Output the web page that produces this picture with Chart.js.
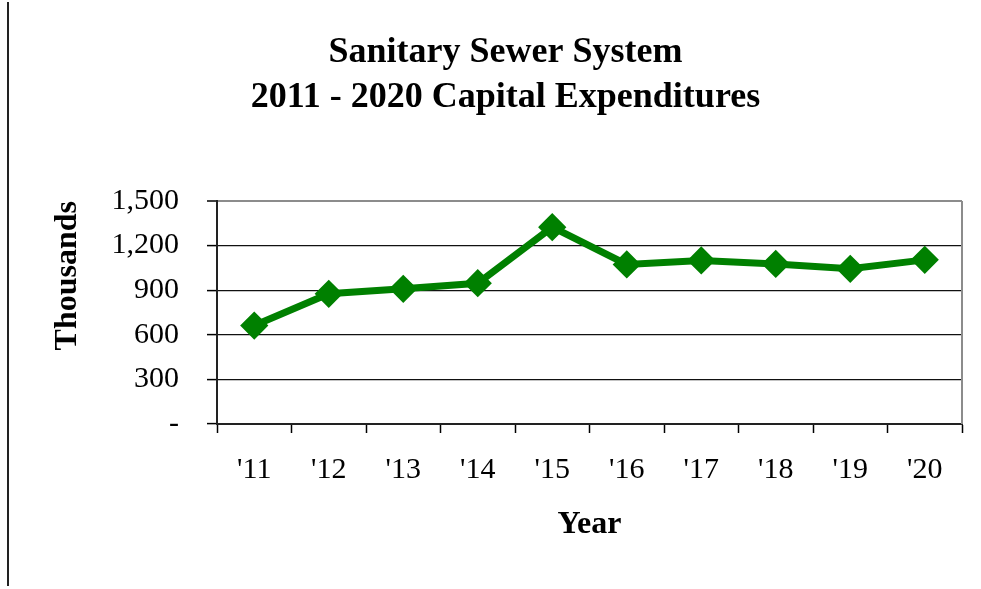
<!DOCTYPE html>
<html>
<head>
<meta charset="utf-8">
<script src="https://cdn.jsdelivr.net/npm/chart.js@4.4.1/dist/chart.umd.min.js"></script>
<style>
  html, body { margin: 0; padding: 0; background: #fff; }
  #wrap { position: relative; width: 981px; height: 589px; }
  #edge { position: absolute; left: 7px; top: 2px; height: 584px; border-left: 2px solid #222; }
  canvas { position: absolute; left: 0; top: 0; }
</style>
</head>
<body>
<div id="wrap">
  <div id="edge"></div>
  <canvas id="myChart" width="981" height="589"></canvas>
</div>
<script>
// chart data
var years = ["'11", "'12", "'13", "'14", "'15", "'16", "'17", "'18", "'19", "'20"];
var spending = [662, 876, 909, 947, 1324, 1073, 1100, 1077, 1044, 1104];
var yTicks = [0, 300, 600, 900, 1200, 1500];

var serif = "'Liberation Serif', 'Times New Roman', serif";

// grey frame on the right side of the plot
var rightEdge = {
    id: "rightEdge",
    afterDraw: function(chart){
        var a = chart.chartArea;
        var ctx = chart.ctx;
        ctx.save();
        ctx.strokeStyle = "#8c8c8c";
        ctx.lineWidth = 2;
        ctx.beginPath();
        ctx.moveTo(a.right, a.top);
        ctx.lineTo(a.right, a.bottom);
        ctx.stroke();
        ctx.restore();
    }
};

new Chart("myChart", {
    type: "line",
    data: {
        labels: years,
        datasets: [{
            data: spending,
            borderColor: "#008000",
            backgroundColor: "#008000",
            borderWidth: 7,
            pointStyle: "rectRot",
            pointRadius: 12,
            pointBorderWidth: 3,
            pointBackgroundColor: "#008000",
            pointBorderColor: "#008000",
            tension: 0
        }]
    },
    options: {
        responsive: false,
        animation: false,
        layout: { padding: { left: 49, right: 19, top: 5, bottom: 45 } },
        plugins: {
            legend: { display: false },
            tooltip: { enabled: false },
            title: {
                display: true,
                text: ["Sanitary Sewer System", "2011 - 2020 Capital Expenditures"],
                color: "#000",
                font: { family: serif, size: 36, weight: "bold", lineHeight: 1.25 },
                padding: { top: 25, bottom: 81 }
            }
        },
        scales: {
            x: {
                offset: true,
                grid: {
                    offset: true,
                    drawOnChartArea: false,
                    tickLength: 9,
                    tickColor: "#000",
                    tickWidth: 1.5
                },
                border: { color: "#222", width: 2 },
                ticks: {
                    color: "#000",
                    padding: 19,
                    maxRotation: 0,
                    font: { family: serif, size: 30 }
                },
                title: {
                    display: true,
                    text: "Year",
                    color: "#000",
                    font: { family: serif, size: 32, weight: "bold" },
                    padding: { top: 10, bottom: 0 }
                },
                afterFit: function(scale){ scale.height = 589 - 424 - 45; }
            },
            y: {
                min: 0,
                max: 1500,
                afterBuildTicks: function(scale){
                    scale.ticks = yTicks.map(function(v){ return { value: v }; });
                },
                grid: {
                    color: function(ctx){
                        return ctx.tick && ctx.tick.value === 1500 ? "#8c8c8c" : "#111";
                    },
                    lineWidth: function(ctx){
                        return ctx.tick && ctx.tick.value === 1500 ? 2 : 1.2;
                    },
                    tickLength: 10,
                    tickColor: "#000",
                    tickWidth: 1.5
                },
                border: { color: "#222", width: 2 },
                ticks: {
                    color: "#000",
                    padding: 28,
                    font: { family: serif, size: 30 },
                    callback: function(v){ return v === 0 ? "-" : v.toLocaleString("en-US"); }
                },
                title: {
                    display: true,
                    text: "Thousands",
                    align: "end",
                    color: "#000",
                    font: { family: serif, size: 32, weight: "bold" },
                    padding: 0
                },
                afterFit: function(scale){ scale.width = 217 - 49; }
            }
        }
    },
    plugins: [rightEdge]
});
</script>
</body>
</html>
